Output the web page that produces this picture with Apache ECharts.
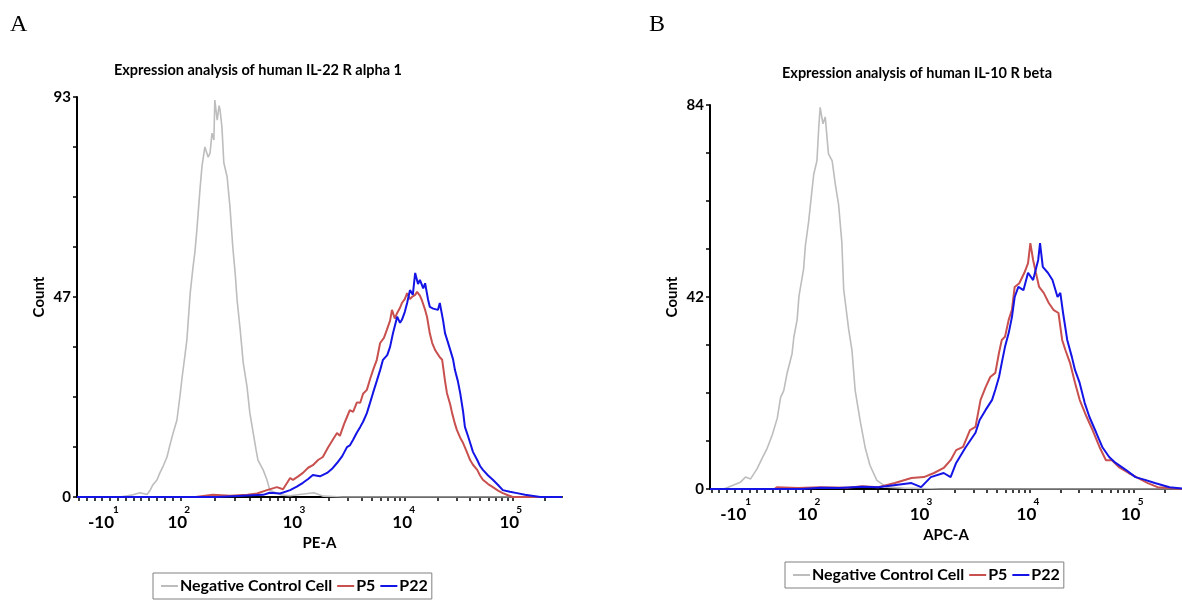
<!DOCTYPE html>
<html><head><meta charset="utf-8">
<script src="https://cdn.jsdelivr.net/npm/echarts@6/dist/echarts.min.js"></script>
<style>html,body{margin:0;padding:0;background:#fff}#c{width:1182px;height:600px}</style>
</head><body><div id="c"></div>
<script>
// ---------- data ----------
const panelLetters = ['A', 'B'];
const panelTitles = ['Expression analysis of human IL-22 R alpha 1', 'Expression analysis of human IL-10 R beta'];
const seriesNames = ['Negative Control Cell', 'P5', 'P22'];
const xAxisNames = ['PE-A', 'APC-A'];
const yAxisName = 'Count';
// x axis in display channels (0-1024, biexponential display)
const xTickValues = [57, 218, 461, 693, 919];
const xTickLabels = ['-10^1', '10^2', '10^3', '10^4', '10^5'];
const yMaxA = 93, yMaxB = 84;
const yTickLabelsA = ['0', '47', '93'];
const yTickLabelsB = ['0', '42', '84'];

// Panel A  [channel, count]
const negA = [[0,0],[60,0],[90,0],[106,0.3],[118,0.5],[133,1],[148,0.6],[154,1.5],[160,2.8],[169,4],[175,5.6],[182,7.2],[190,9.3],[196,12],[203,14.9],[211,17.9],[218,24],[222,27.9],[228,33],[232,36.5],[239,47.4],[245,53.5],[249,57],[253,62],[260,72],[264,77],[270,81.4],[277,79],[281,80],[285,84.6],[289,83],[291,92.3],[296,87.6],[300,91],[302,90],[306,86],[310,77.7],[317,74.4],[323,67.4],[329,58],[334,52],[338,45.8],[344,39.5],[351,31.2],[359,25.6],[365,19.5],[372,14.9],[378,11],[382,8.6],[393,6.3],[401,4],[407,1.6],[430,0.5],[450,0.3],[470,0.6],[500,1.0],[520,0.2],[560,0],[700,0],[1024,0]];
const p5A = [[0,0],[250,0],[287,0.5],[323,0.3],[360,0.5],[380,0.8],[401,1.6],[422,2.3],[435,1.8],[450,4.4],[456,4.0],[467,4.8],[477,5.6],[488,6.8],[498,7.4],[509,8.6],[519,9.3],[530,11.5],[540,13.3],[549,14.9],[555,14.2],[564,17],[570,18.6],[576,20.2],[583,19.8],[591,22],[598,21.9],[604,24],[612,24.9],[619,27.5],[625,29.5],[633,31.9],[640,35.8],[648,37],[654,38.8],[661,41],[665,43.5],[671,41.5],[676,42.8],[682,44],[686,45.1],[692,46],[697,47.4],[703,46],[707,46.5],[714,47],[718,47.7],[724,46.8],[728,45.8],[735,43.5],[739,41.9],[745,38],[750,35.8],[756,34.2],[760,33.5],[766,32.5],[771,31.9],[777,27],[781,24.2],[788,21.5],[792,19.5],[798,17],[802,15.6],[809,13.8],[815,12.6],[823,10.5],[830,8.6],[836,7.5],[845,6.3],[851,5],[857,4],[868,3],[878,2.3],[889,1.5],[899,0.9],[910,0.4],[920,0],[1024,0]];
const p22A = [[0,0],[296,0],[393,0.5],[407,1.0],[429,0.8],[450,1.6],[464,2.4],[477,3.3],[488,4.2],[498,5.1],[513,4.8],[528,5.6],[538,6.5],[549,7.9],[560,9.5],[570,11.6],[576,12.0],[583,13.3],[591,15],[598,16.3],[604,17.5],[612,19.5],[619,22],[625,24.2],[633,27],[640,29.5],[646,31.9],[655,33],[661,34.9],[667,38],[676,41.9],[682,40.5],[686,41.2],[692,43],[697,45.1],[703,48.1],[709,47],[714,52.1],[720,49.5],[724,50.5],[731,48.5],[735,49.7],[741,46],[745,44.2],[752,43.8],[756,44.2],[762,43.5],[766,45.1],[773,41],[777,38.1],[783,36],[788,34.2],[794,32],[798,29.5],[804,27],[809,24.2],[815,20],[819,16.3],[826,14],[830,12.6],[836,10.5],[845,8.6],[851,7.2],[857,6.3],[868,5],[878,4],[889,2.8],[899,1.6],[914,1.2],[929,0.9],[946,0.5],[978,0],[1024,0]];

// Panel B  [channel, count]
const negB = [[0,0],[30,0],[66,1.5],[77,2.6],[88,2.2],[102,4.4],[113,6.7],[124,8.9],[135,11.8],[146,15.5],[153,20],[160,21.5],[167,25.2],[178,29.6],[182,33.3],[189,37],[193,42.2],[203,48.1],[207,53.3],[214,58.5],[221,65.1],[225,68.8],[232,71.8],[236,79.2],[239,83.5],[245,79.9],[250,81.4],[257,73.3],[265,71.8],[272,66.6],[279,62.2],[286,54],[290,43.7],[301,34.8],[308,30.3],[315,21.5],[326,14.8],[337,8.9],[347,5.2],[362,1.9],[383,0.4],[420,0.2],[500,0],[1024,0]];
const p5B = [[0,0],[140,0],[145,0.4],[190,0.2],[240,0.4],[300,0.3],[330,0.6],[365,0.4],[401,1.3],[437,2.4],[464,2.6],[486,3.5],[507,4.6],[522,6.3],[534,8.5],[549,9.2],[564,12.9],[576,13.6],[587,19.5],[598,22.3],[608,24.5],[619,25.4],[627,29.8],[633,32.6],[640,33.3],[648,37],[655,39.2],[661,44.2],[671,45],[682,47.3],[690,49.4],[695,53.8],[701,50.1],[707,47.3],[714,44.2],[724,42.9],[735,40.7],[745,39.2],[756,38.5],[764,32.6],[771,30.4],[781,27.6],[792,23.2],[802,19.5],[817,15.8],[830,12.9],[845,9.2],[859,6.3],[872,6.3],[887,4.8],[908,3.5],[929,2.4],[950,1.3],[971,0.4],[997,0.2],[1024,0]];
const p22B = [[0,0],[200,0],[240,0.3],[280,0.2],[330,0.5],[365,0.4],[437,1.3],[458,0.4],[479,2.6],[507,3.5],[522,2.6],[534,5.7],[555,9.2],[576,12.3],[585,15.1],[598,17.3],[612,19.5],[619,21.7],[627,24.5],[633,27.6],[640,31.1],[648,34.1],[655,37.6],[661,42],[669,44.2],[680,43.5],[690,47.3],[701,45.7],[712,50.1],[716,53.8],[722,48.6],[733,47.3],[743,45.7],[754,42],[760,42.9],[766,38.5],[775,32.6],[785,28.9],[792,26],[802,23.2],[813,18.8],[823,15.8],[838,12.3],[851,9.2],[866,7],[880,5.7],[902,4.2],[923,2.6],[944,2],[965,1.3],[997,0.4],[1024,0.1]];

// ---------- chart ----------
const FONT = 'Lato';
const colors = ['#bdbdbd', '#c8504f', '#1414e6'];
const panelData = [[negA, p5A, p22A], [negB, p5B, p22B]];
const yMax = [yMaxA, yMaxB];
const yLabels = [yTickLabelsA, yTickLabelsB];
const grids = [
  {left: 77, top: 97, width: 485, height: 400},
  {left: 710, top: 105, width: 485, height: 384}
];

// minor ticks: linear region below 10^2, log-spaced within decades
function xMinorTicks() {
  const t = [];
  for (let v = xTickValues[1]; v > 0; v -= 16.5) t.push(v);
  for (let i = 1; i < xTickValues.length; i++) {
    const a = xTickValues[i];
    const w = i < xTickValues.length - 1 ? xTickValues[i + 1] - a : a - xTickValues[i - 1];
    for (let k = 1; k <= 9; k++) {
      const v = a + w * Math.log10(k);
      if (v <= 1024) t.push(v);
    }
  }
  t.push(xTickValues[xTickValues.length - 1]);
  return t;
}
// label: exponent on a first (raised) line, mantissa below, shifted so the exponent sits to the right
function xFmt(v) {
  let best = 0;
  for (let i = 1; i < xTickValues.length; i++)
    if (Math.abs(xTickValues[i] - v) < Math.abs(xTickValues[best] - v)) best = i;
  const p = xTickLabels[best].split('^');
  const neg = p[0].charAt(0) === '-';
  return '{' + (neg ? 'sn' : 's') + '|' + p[1] + '}\n{' + (neg ? 'bn' : 'b') + '|' + p[0] + '}';
}

const xAxes = [], yAxes = [], series = [];
const bStyle = {fontFamily: FONT, fontWeight: 'bold', fontSize: 17, lineHeight: 17, color: '#000'};
const sStyle = {fontFamily: FONT, fontWeight: 'bold', fontSize: 10, lineHeight: 8, color: '#000'};
for (let p = 0; p < 2; p++) {
  xAxes.push({
    type: 'value', gridIndex: p, min: 0, max: 1024,
    name: xAxisNames[p], nameLocation: 'middle', nameGap: 38,
    nameTextStyle: {fontFamily: FONT, fontWeight: 'bold', fontSize: 15, color: '#000'},
    axisLine: {show: true, onZero: false, lineStyle: {color: '#000', width: 2}},
    axisTick: {show: true, length: 4, customValues: xMinorTicks(), lineStyle: {color: '#000', width: 1.5}},
    axisLabel: {
      customValues: xTickValues, margin: 9, formatter: xFmt,
      rich: {
        b: Object.assign({}, bStyle, {padding: [0, 6, 0, 0]}),
        bn: Object.assign({}, bStyle, {padding: [0, 6, 0, 0]}),
        s: Object.assign({}, sStyle, {padding: [0, 0, 0, 14]}),
        sn: Object.assign({}, sStyle, {padding: [0, 0, 0, 24]})
      }
    },
    splitLine: {show: false}
  });
  const m = yMax[p];
  const yTicks = [];
  for (let i = 0; i <= 8; i++) yTicks.push(m * i / 8);
  yAxes.push({
    type: 'value', gridIndex: p, min: 0, max: m,
    name: yAxisName, nameLocation: 'middle', nameGap: 30,
    nameTextStyle: {fontFamily: FONT, fontWeight: 'bold', fontSize: 15, color: '#000'},
    axisLine: {show: true, onZero: false, lineStyle: {color: '#000', width: 2}},
    axisTick: {show: true, length: 4, customValues: yTicks, lineStyle: {color: '#000', width: 1.5}},
    axisLabel: {
      customValues: [0, m / 2, m], margin: 6,
      fontFamily: FONT, fontWeight: 'bold', fontSize: 15, color: '#000',
      formatter: (function (labels, mm) { return function (v) { return labels[Math.round(v / (mm / 2))]; }; })(yLabels[p], m)
    },
    splitLine: {show: false}
  });
  for (let s = 0; s < 3; s++) {
    series.push({
      type: 'line', name: seriesNames[s], xAxisIndex: p, yAxisIndex: p,
      data: panelData[p][s], symbol: 'none', smooth: false,
      lineStyle: {color: colors[s], width: s === 0 ? 1.6 : 2},
      itemStyle: {color: colors[s]},
      z: 2 + s, animation: false
    });
  }
}

const legendBase = {
  data: seriesNames, orient: 'horizontal', icon: 'rect',
  itemWidth: 17, itemHeight: 2, itemGap: 5,
  borderColor: '#808080', borderWidth: 1, borderRadius: 0,
  padding: [5, 4, 5, 8], backgroundColor: '#fff',
  textStyle: {fontFamily: FONT, fontWeight: 'bold', fontSize: 16, color: '#000', padding: [0, 0, 0, -3]}
};

const option = {
  backgroundColor: '#fff',
  animation: false,
  title: [
    {text: panelLetters[0], left: 10, top: 13, padding: 0, textStyle: {fontFamily: 'Liberation Serif', fontWeight: 'normal', fontSize: 24, color: '#000'}},
    {text: panelLetters[1], left: 649, top: 13, padding: 0, textStyle: {fontFamily: 'Liberation Serif', fontWeight: 'normal', fontSize: 24, color: '#000'}},
    {text: panelTitles[0], left: 258, top: 63, padding: 0, textAlign: 'center', textStyle: {fontFamily: FONT, fontWeight: 'bold', fontSize: 14.5, color: '#000'}},
    {text: panelTitles[1], left: 917, top: 66, padding: 0, textAlign: 'center', textStyle: {fontFamily: FONT, fontWeight: 'bold', fontSize: 14.5, color: '#000'}}
  ],
  legend: [
    Object.assign({}, legendBase, {left: 153, top: 573}),
    Object.assign({}, legendBase, {left: 785, top: 562})
  ],
  grid: grids,
  xAxis: xAxes,
  yAxis: yAxes,
  series: series
};
const chart = echarts.init(document.getElementById('c'), null, {renderer: 'canvas'});
chart.setOption(option);
</script>
</body></html>
